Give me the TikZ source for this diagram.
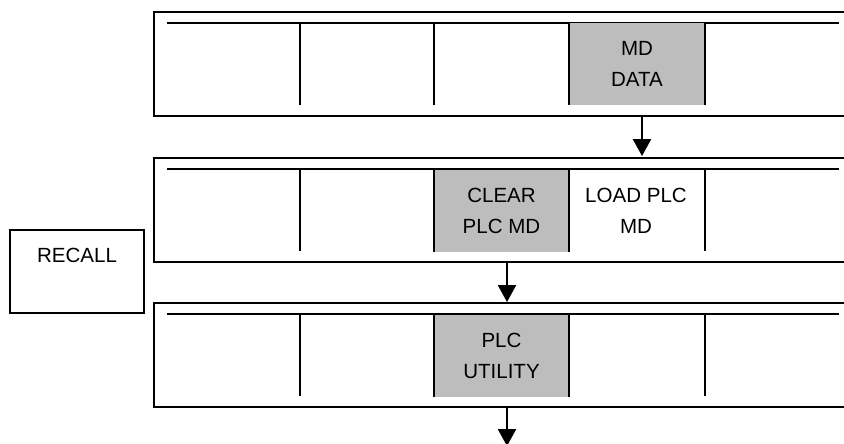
\documentclass[tikz,border=0pt]{standalone}
\usepackage{fontspec}
\setmainfont{Liberation Sans}
\usetikzlibrary{arrows.meta}
\begin{document}
\begin{tikzpicture}[x=0.025cm,y=-0.025cm,
        panelline/.style={line width=1.2pt},
        keytext/.style={align=center,font=\fontsize{14.6}{22.5}\selectfont},
        softkey/.style={keytext,fill=black!26,inner sep=0pt,minimum width=3.375cm,minimum height=2.05cm},
        flow/.style={line width=1.2pt,-{Triangle[width=0.45cm,length=0.42cm]}}]
            \useasboundingbox (0,0) rectangle (844,443);
            \foreach \t in {12,158,303} {
                \draw [panelline] (844,\t) -- (154,\t) -- (154,\t+104) -- (844,\t+104);
                \draw [panelline] (167,\t+11) -- (839,\t+11);
                \draw [panelline] (300,\t+11) -- (300,\t+93);
            }
            \begin{scope}
                \draw [panelline] (434,23) -- (434,105);
                \node [softkey] (mddata) at (637,64) {MD\\DATA};
                \draw [panelline] (mddata.north west) -- (mddata.south west);
                \draw [panelline] (mddata.north east) -- (mddata.south east);
                \coordinate (out1) at (642,116);
            \end{scope}
            \begin{scope}[shift={(0,146)}]
                \node [softkey] (clearmd) at (501.5,65) {CLEAR\\PLC MD};
                \draw [panelline] (clearmd.north west) -- (clearmd.south west);
                \draw [panelline] (clearmd.north east) -- (clearmd.south east);
                \node [keytext] (loadmd) at (636,65) {LOAD PLC\\MD};
                \draw [panelline] (705,23) -- (705,105);
                \coordinate (in2) at (642,10);
                \coordinate (out2) at (507,116);
            \end{scope}
            \begin{scope}[shift={(0,291)}]
                \node [softkey] (utility) at (501.5,65) {PLC\\UTILITY};
                \draw [panelline] (utility.north west) -- (utility.south west);
                \draw [panelline] (utility.north east) -- (utility.south east);
                \draw [panelline] (705,23) -- (705,105);
                \coordinate (in3) at (507,11);
                \coordinate (out3) at (507,116);
                \coordinate (next) at (507,155);
            \end{scope}
            \node [keytext,draw,panelline,minimum width=3.35cm,minimum height=2.08cm] (recall) at (77,271.5) {RECALL\\~};
            \draw [flow] (out1) -- (in2);
            \draw [flow] (out2) -- (in3);
            \draw [flow] (out3) -- (next);
        \end{tikzpicture}
\end{document}
